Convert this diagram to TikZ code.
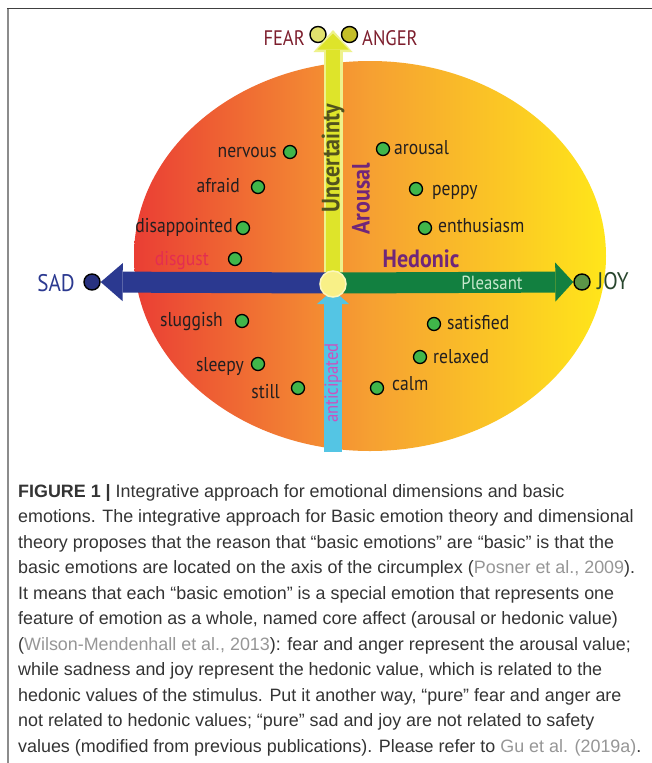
\documentclass[tikz,border=0pt]{standalone}
\usepackage{fontspec}
\setmainfont{Liberation Sans}
\newfontfamily\lab[FakeStretch=0.88]{PT Sans}
\usetikzlibrary{arrows.meta}
\definecolor{cRed}{RGB}{234,62,52}
\definecolor{cOrg}{RGB}{246,160,50}
\definecolor{cYel}{RGB}{255,230,26}
\definecolor{sadblue}{RGB}{43,57,144}
\definecolor{joygreen}{RGB}{18,128,64}
\definecolor{yelFill}{RGB}{222,228,42}
\definecolor{yelEdge}{RGB}{238,242,140}
\definecolor{cyanA}{RGB}{84,197,228}
\definecolor{dotgreen}{RGB}{64,182,74}
\definecolor{purp}{RGB}{112,38,122}
\definecolor{uncert}{RGB}{82,82,30}
\definecolor{fearred}{RGB}{125,30,45}
\definecolor{disg}{RGB}{228,45,80}
\definecolor{antic}{RGB}{205,80,190}
\definecolor{labtxt}{RGB}{35,31,32}
\definecolor{captxt}{RGB}{52,52,52}
\definecolor{citegray}{RGB}{150,150,150}
\definecolor{ctrFill}{RGB}{248,240,135}
\definecolor{ctrEdge}{RGB}{252,247,190}
\definecolor{fearFill}{RGB}{226,226,110}
\definecolor{angerFill}{RGB}{196,190,40}
\definecolor{sadFill}{RGB}{40,50,128}
\definecolor{joyFill}{RGB}{92,150,72}
\definecolor{joyTxt}{RGB}{40,70,45}
\definecolor{pleasTxt}{RGB}{200,232,205}
\begin{document}
\begin{tikzpicture}[x=1pt,y=-1pt,
  emodot/.style={circle, draw=black, line width=1.3pt, fill=dotgreen, minimum size=13pt, inner sep=0pt},
  poledot/.style={circle, draw=black, line width=1.4pt, minimum size=16pt, inner sep=0pt},
  lbltxt/.style={inner sep=0pt, text=labtxt, font=\lab\fontsize{20}{22}\selectfont},
  bigtxt/.style={inner sep=0pt, font=\lab\fontsize{21}{24}\selectfont},
  poletxt/.style={inner sep=0pt, font=\lab\fontsize{24}{26}\selectfont},
  axtxt/.style={inner sep=0pt, font=\lab\bfseries\fontsize{25}{27}\selectfont},
  capline/.style={inner sep=0pt, anchor=base west, text=captxt, font=\fontsize{17.9}{20}\selectfont}
]
\useasboundingbox (0,0) rectangle (652,763);
\fill[white] (0,0) rectangle (652,763);
% frame
\draw[black!45, line width=1.6pt] (7.8,763) -- (7.8,8.5);
\draw[black!75, line width=1.3pt] (7,8.3) -- (652,8.3);

% circumplex
\shade[left color=cRed, right color=cYel, middle color=cOrg] (370,256) ellipse [x radius=236, y radius=195];

% anchor points
\coordinate (o) at (333,283);
\coordinate (top) at (333,30);
\coordinate (bot) at (333,452);
\node[poledot, fill=sadFill] (sad) at (92,282) {};
\node[poledot, fill=joyFill] (joy) at (582,282) {};
\node[poledot, fill=fearFill] (fear) at (318,34.5) {};
\node[poledot, fill=angerFill] (anger) at (349.5,34.5) {};

% arrows
\draw[line width=18pt, cyanA, shorten >=7pt, -{Triangle[length=14pt,width=32pt,line width=0pt]}] (bot) -- (o);
\draw[line width=19pt, yelEdge, -{Triangle[length=22pt,width=39pt,line width=0pt]}] (o) -- (top);
\draw[line width=14pt, yelFill, shorten >=3.5pt, -{Triangle[length=16pt,width=31pt,line width=0pt]}] (o) -- (top);
\draw[line width=21pt, sadblue, -{Triangle[length=22pt,width=38pt,line width=0pt]}] (o) -- (sad);
\draw[line width=21pt, joygreen, -{Triangle[length=18pt,width=39pt,line width=0pt]}] (o) -- (joy);
\node[circle, minimum size=26pt, inner sep=0pt, fill=ctrFill, draw=ctrEdge, line width=1.5pt] (ctr) at (333,284) {};

% pole labels
\node[bigtxt, text=fearred, anchor=base east] (fearT) at (305,45) {FEAR};
\node[bigtxt, text=fearred, anchor=base west] (angerT) at (362,45) {ANGER};
\node[poletxt, text=sadblue, anchor=base east] (sadT) at (75,291) {SAD};
\node[poletxt, text=joyTxt, anchor=base west] (joyT) at (597,289) {JOY};

% axis labels
\node[axtxt, text=uncert, rotate=90] (unc) at (333,158) {Uncertainty};
\node[axtxt, text=purp, rotate=90] (aro) at (361,199) {Arousal};
\node[axtxt, text=purp] (hed) at (421,259) {Hedonic};
\node[inner sep=0pt, text=pleasTxt, font=\lab\fontsize{19}{21}\selectfont] (pleas) at (492,283) {Pleasant};
\node[inner sep=0pt, text=antic, rotate=90, font=\lab\fontsize{19}{21}\selectfont] (antT) at (333,383) {anticipated};

% emotion dots and words
\node[emodot] (d1) at (290,152) {};
\node[lbltxt, anchor=base east] (t1) at (277,157) {nervous};
\node[emodot] (d2) at (258,187) {};
\node[lbltxt, anchor=base east] (t2) at (240,192) {afraid};
\node[emodot] (d3) at (243,228) {};
\node[lbltxt, anchor=base east] (t3) at (233,232) {disappointed};
\node[emodot] (d4) at (235,259) {};
\node[lbltxt, anchor=base east, text=disg] (t4) at (209,265) {disgust};
\node[emodot] (d5) at (383,149) {};
\node[lbltxt, anchor=base west] (t5) at (394,154) {arousal};
\node[emodot] (d6) at (416,189) {};
\node[lbltxt, anchor=base west] (t6) at (432,195) {peppy};
\node[emodot] (d7) at (425,228) {};
\node[lbltxt, anchor=base west] (t7) at (438,232) {enthusiasm};
\node[emodot] (d8) at (242,321) {};
\node[lbltxt, anchor=base east] (t8) at (223,326) {sluggish};
\node[emodot] (d9) at (258,364) {};
\node[lbltxt, anchor=base east] (t9) at (244,371) {sleepy};
\node[emodot] (d10) at (298,388) {};
\node[lbltxt, anchor=base east] (t10) at (280,398) {still};
\node[emodot] (d11) at (377,388) {};
\node[lbltxt, anchor=base west] (t11) at (392,390) {calm};
\node[emodot] (d12) at (420,357) {};
\node[lbltxt, anchor=base west] (t12) at (433,363) {relaxed};
\node[emodot] (d13) at (434,324) {};
\node[lbltxt, anchor=base west] (t13) at (447,329) {satisfied};

% caption
\node[capline] (c1) at (18,497) {\textbf{FIGURE 1 |} Integrative approach for emotional dimensions and basic};
\node[capline] (c2) at (18,522.5) {emotions. The integrative approach for Basic emotion theory and dimensional};
\node[capline] (c3) at (18,548) {theory proposes that the reason that “basic emotions” are “basic” is that the};
\node[capline] (c4) at (18,573.5) {basic emotions are located on the axis of the circumplex ({\color{citegray}Posner et al., 2009}).};
\node[capline] (c5) at (18,599) {It means that each “basic emotion” is a special emotion that represents one};
\node[capline] (c6) at (18,624.5) {feature of emotion as a whole, named core affect (arousal or hedonic value)};
\node[capline] (c7) at (18,650) {({\color{citegray}Wilson-Mendenhall et al., 2013}): fear and anger represent the arousal value;};
\node[capline] (c8) at (18,675.5) {while sadness and joy represent the hedonic value, which is related to the};
\node[capline] (c9) at (18,701) {hedonic values of the stimulus. Put it another way, “pure” fear and anger are};
\node[capline] (c10) at (18,726.5) {not related to hedonic values; “pure” sad and joy are not related to safety};
\node[capline] (c11) at (18,752) {values (modified from previous publications). Please refer to {\color{citegray}Gu et al. (2019a)}.};
\end{tikzpicture}
\end{document}
